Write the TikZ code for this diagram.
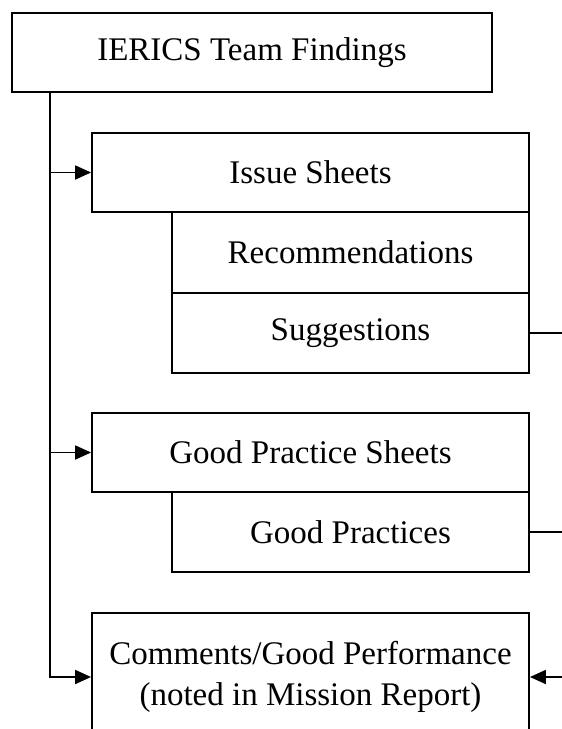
\documentclass[tikz,border=0pt]{standalone}
\usepackage{fontspec}
\setmainfont{Liberation Serif}
\usetikzlibrary{arrows.meta}
\begin{document}
\begin{tikzpicture}[x=1pt,y=-1pt,
  box/.style={draw,line width=1.8pt,rectangle,inner sep=0pt,align=center,
    font=\fontsize{33}{41}\selectfont},
  conn/.style={line width=1.8pt},
  arr/.style={conn,-{Triangle[length=16pt,width=14pt]}}]
\useasboundingbox (0,0) rectangle (562,729);
\clip (0,0) rectangle (562,729);
\node[box,minimum width=480pt,minimum height=79pt] (top) at (252,52.5) {IERICS Team Findings};
\node[box,minimum width=437pt,minimum height=79pt] (issue) at (310.5,172.5) {Issue Sheets};
\node[box,minimum width=357pt,minimum height=81pt] (rec) at (350.5,252.5) {Recommendations};
\node[box,minimum width=357pt,minimum height=80pt] (sugg) at (350.5,333) {Suggestions};
\node[box,minimum width=437pt,minimum height=79pt] (gps) at (310.5,452.5) {Good Practice Sheets};
\node[box,minimum width=357pt,minimum height=80pt] (gp) at (350.5,532) {Good Practices};
\node[box,minimum width=437pt,minimum height=128pt] (comm) at (310.5,677) {Comments/Good Performance\\(noted in Mission Report)};
\coordinate (trunk) at (50,92.5);
\coordinate (edge) at (562,0);
\draw[arr] (trunk) |- (comm.west);
\draw[arr] (issue.west -| trunk) -- (issue.west);
\draw[arr] (gps.west -| trunk) -- (gps.west);
\draw[conn] (sugg.east) -- (sugg.east -| edge);
\draw[conn] (gp.east) -- (gp.east -| edge);
\draw[arr] (comm.east -| edge) -- (comm.east);
\end{tikzpicture}
\end{document}
